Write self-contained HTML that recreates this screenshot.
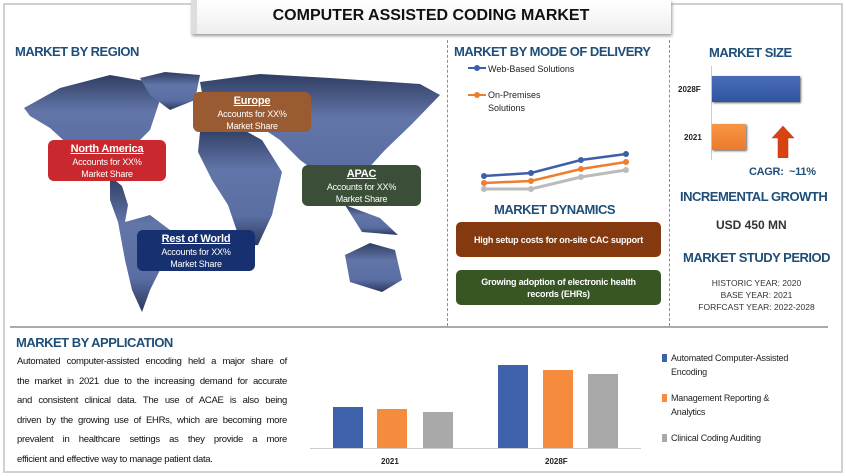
<!DOCTYPE html>
<html><head><meta charset="utf-8"><style>
*{margin:0;padding:0;box-sizing:border-box}
body{width:846px;height:476px;background:#fff;font-family:"Liberation Sans",sans-serif;position:relative;overflow:hidden}
.a{position:absolute}
.h{color:#1f4e79;font-weight:bold;font-size:13px;letter-spacing:-0.5px;white-space:nowrap}
.box{position:absolute;border-radius:6px;color:#fff;text-align:center;font-size:9px;line-height:12px;padding-top:3px;letter-spacing:-0.2px}
.box b{text-decoration:underline;font-size:11px;display:block;margin-bottom:1px}
.dyn{position:absolute;left:456px;width:205px;height:35px;border-radius:5px;color:#fff;font-weight:bold;font-size:9px;text-align:center;display:flex;align-items:center;justify-content:center;line-height:12px;letter-spacing:-0.2px}
.lg{position:absolute;left:662px;font-size:9px;color:#222;line-height:14px;letter-spacing:-0.2px}
.lg i{position:absolute;left:0;top:3px;width:5px;height:8px}
.lg span{margin-left:9px;display:block}
.p div{text-align:justify;text-align-last:justify;white-space:nowrap;height:19.5px}
.p div.l{text-align-last:left}
</style></head><body>
<div class="a" style="left:3px;top:3px;width:840px;height:470px;border:2px solid #d0d0d0"></div>
<div class="a" style="left:191px;top:0;width:480px;height:34px;background:linear-gradient(#fff,#eee);box-shadow:1px 2px 3px #999;border-left:6px solid #ddd"></div>
<div class="a" style="left:191px;top:7px;width:480px;text-align:center;font-weight:bold;font-size:16px;color:#111">COMPUTER ASSISTED CODING MARKET</div>
<div class="a" style="left:447px;top:40px;height:286px;border-left:1px dashed #5b9bd5"></div>
<div class="a" style="left:669px;top:40px;height:286px;border-left:1px dashed #5b9bd5"></div>
<div class="a" style="left:10px;top:326px;width:818px;height:2px;background:#aaa"></div>

<div class="a h" style="left:15px;top:44px">MARKET BY REGION</div>
<svg class="a" style="left:0;top:0" width="446" height="320">
<defs><linearGradient id="g" x1="0" y1="0" x2="0" y2="1"><stop offset="0" stop-color="#2f3d62"/><stop offset="0.35" stop-color="#6275a8"/><stop offset="0.75" stop-color="#5a6ea3"/><stop offset="1" stop-color="#2c385c"/></linearGradient></defs>
<g fill="url(#g)">
<polygon points="24,108 60,88 110,75 150,82 160,100 150,130 135,145 120,160 112,178 95,170 72,148 50,128 30,116"/>
<polygon points="140,78 165,72 200,75 195,100 170,110 150,95"/>
<polygon points="110,176 122,186 128,205 125,222 150,215 170,230 165,260 150,290 142,312 132,290 125,260 118,222 110,200"/>
<polygon points="200,82 260,74 330,78 420,84 440,95 412,124 385,150 365,172 350,200 325,178 300,160 280,140 262,128 230,120 205,110"/>
<polygon points="200,132 240,128 262,140 282,172 272,215 258,245 242,246 228,205 212,180 198,152"/>
<polygon points="345,255 370,243 395,250 402,280 382,292 350,282"/>
<polygon points="345,205 380,218 398,235 362,232"/>
</g></svg>
<div class="box" style="left:193px;top:92px;width:118px;height:40px;background:#9a5a32">
<b>Europe</b>Accounts for XX%<br>Market Share</div>
<div class="box" style="left:48px;top:140px;width:118px;height:41px;background:#c9282e">
<b>North America</b>Accounts for XX%<br>Market Share</div>
<div class="box" style="left:302px;top:165px;width:119px;height:41px;background:#3b4e37">
<b>APAC</b>Accounts for XX%<br>Market Share</div>
<div class="box" style="left:137px;top:230px;width:118px;height:41px;background:#173170">
<b>Rest of World</b>Accounts for XX%<br>Market Share</div>

<div class="a h" style="left:454px;top:44px">MARKET BY MODE OF DELIVERY</div>
<svg class="a" style="left:448px;top:50px" width="220" height="150">
<line x1="20" y1="18" x2="38" y2="18" stroke="#3d5faa" stroke-width="2"/><circle cx="29" cy="18" r="3" fill="#3d5faa"/>
<line x1="20" y1="45" x2="38" y2="45" stroke="#ed7d31" stroke-width="2"/><circle cx="29" cy="45" r="3" fill="#ed7d31"/>
<text x="40" y="22" font-size="9" fill="#222" font-family="Liberation Sans">Web-Based Solutions</text>
<text x="40" y="48" font-size="9" fill="#222" font-family="Liberation Sans">On-Premises</text>
<text x="40" y="61" font-size="9" fill="#222" font-family="Liberation Sans">Solutions</text>
<polyline points="36,139 83,139 133,127 178,120" fill="none" stroke="#bbb" stroke-width="3"/>
<g fill="#bbb"><circle cx="36" cy="139" r="3"/><circle cx="83" cy="139" r="3"/><circle cx="133" cy="127" r="3"/><circle cx="178" cy="120" r="3"/></g>
<polyline points="36,133 83,131 133,119 178,112" fill="none" stroke="#ed7d31" stroke-width="2.5"/>
<g fill="#ed7d31"><circle cx="36" cy="133" r="3"/><circle cx="83" cy="131" r="3"/><circle cx="133" cy="119" r="3"/><circle cx="178" cy="112" r="3"/></g>
<polyline points="36,126 83,123 133,110 178,104" fill="none" stroke="#3d5faa" stroke-width="2.5"/>
<g fill="#3d5faa"><circle cx="36" cy="126" r="3"/><circle cx="83" cy="123" r="3"/><circle cx="133" cy="110" r="3"/><circle cx="178" cy="104" r="3"/></g>
</svg>
<div class="a h" style="left:494px;top:202px">MARKET DYNAMICS</div>
<div class="dyn" style="top:222px;background:#84390f">High setup costs for on-site CAC support</div>
<div class="dyn" style="top:270px;background:#375623">Growing adoption of electronic health<br>records (EHRs)</div>

<div class="a h" style="left:709px;top:45px">MARKET SIZE</div>
<div class="a" style="left:711px;top:66px;height:94px;border-left:1px solid #ccc"></div>
<div class="a" style="left:712px;top:76px;width:88px;height:26px;background:linear-gradient(#4a6cb8,#2f55a0);box-shadow:1px 1px 2px #666"></div>
<div class="a" style="left:712px;top:124px;width:34px;height:26px;background:linear-gradient(#f79646,#ec7a2c);box-shadow:1px 1px 2px #666"></div>
<div class="a" style="left:678px;top:85px;font-size:8px;font-weight:bold;color:#222">2028F</div>
<div class="a" style="left:684px;top:133px;font-size:8px;font-weight:bold;color:#222">2021</div>
<svg class="a" style="left:771px;top:126px" width="24" height="32"><polygon points="12,0 23,12 17,12 17,32 7,32 7,12 1,12" fill="#d9430f" stroke="#a33" stroke-width="0.5"/></svg>
<div class="a" style="left:749px;top:166px;font-size:11px;font-weight:bold;color:#1f4e79;letter-spacing:-0.3px">CAGR:&nbsp; ~11%</div>
<div class="a h" style="left:680px;top:189px">INCREMENTAL GROWTH</div>
<div class="a" style="left:716px;top:218px;font-size:12px;font-weight:bold;color:#333">USD 450 MN</div>
<div class="a h" style="left:683px;top:250px">MARKET STUDY PERIOD</div>
<div class="a" style="left:670px;top:277px;width:173px;text-align:center;font-size:8.5px;line-height:12px;color:#333">HISTORIC YEAR: 2020<br>BASE YEAR: 2021<br>FORFCAST YEAR: 2022-2028</div>

<div class="a h" style="left:16px;top:335px">MARKET BY APPLICATION</div>
<div class="a p" style="left:17px;top:352px;width:270px;font-size:9.5px;line-height:19.5px;color:#111;letter-spacing:-0.3px">
<div>Automated computer-assisted encoding held a major share of</div>
<div>the market in 2021 due to the increasing demand for accurate</div>
<div>and consistent clinical data. The use of ACAE is also being</div>
<div>driven by the growing use of EHRs, which are becoming more</div>
<div>prevalent in healthcare settings as they provide a more</div>
<div class="l">efficient and effective way to manage patient data.</div>
</div>
<div class="a" style="left:310px;top:448px;width:331px;height:1px;background:#ccc"></div>
<div class="a" style="left:333px;top:407px;width:30px;height:41px;background:#3d62aa"></div>
<div class="a" style="left:377px;top:409px;width:30px;height:39px;background:#f58b3c"></div>
<div class="a" style="left:423px;top:412px;width:30px;height:36px;background:#a9a9a9"></div>
<div class="a" style="left:498px;top:365px;width:30px;height:83px;background:#3d62aa"></div>
<div class="a" style="left:543px;top:370px;width:30px;height:78px;background:#f58b3c"></div>
<div class="a" style="left:588px;top:374px;width:30px;height:74px;background:#a9a9a9"></div>
<div class="a" style="left:381px;top:457px;font-size:8px;font-weight:bold;color:#222">2021</div>
<div class="a" style="left:545px;top:457px;font-size:8px;font-weight:bold;color:#222">2028F</div>
<div class="lg" style="top:351px"><i style="background:#3d62aa"></i><span>Automated Computer-Assisted<br>Encoding</span></div>
<div class="lg" style="top:391px"><i style="background:#f58b3c"></i><span>Management Reporting &amp;<br>Analytics</span></div>
<div class="lg" style="top:431px"><i style="background:#a9a9a9"></i><span>Clinical Coding Auditing</span></div>
</body></html>
